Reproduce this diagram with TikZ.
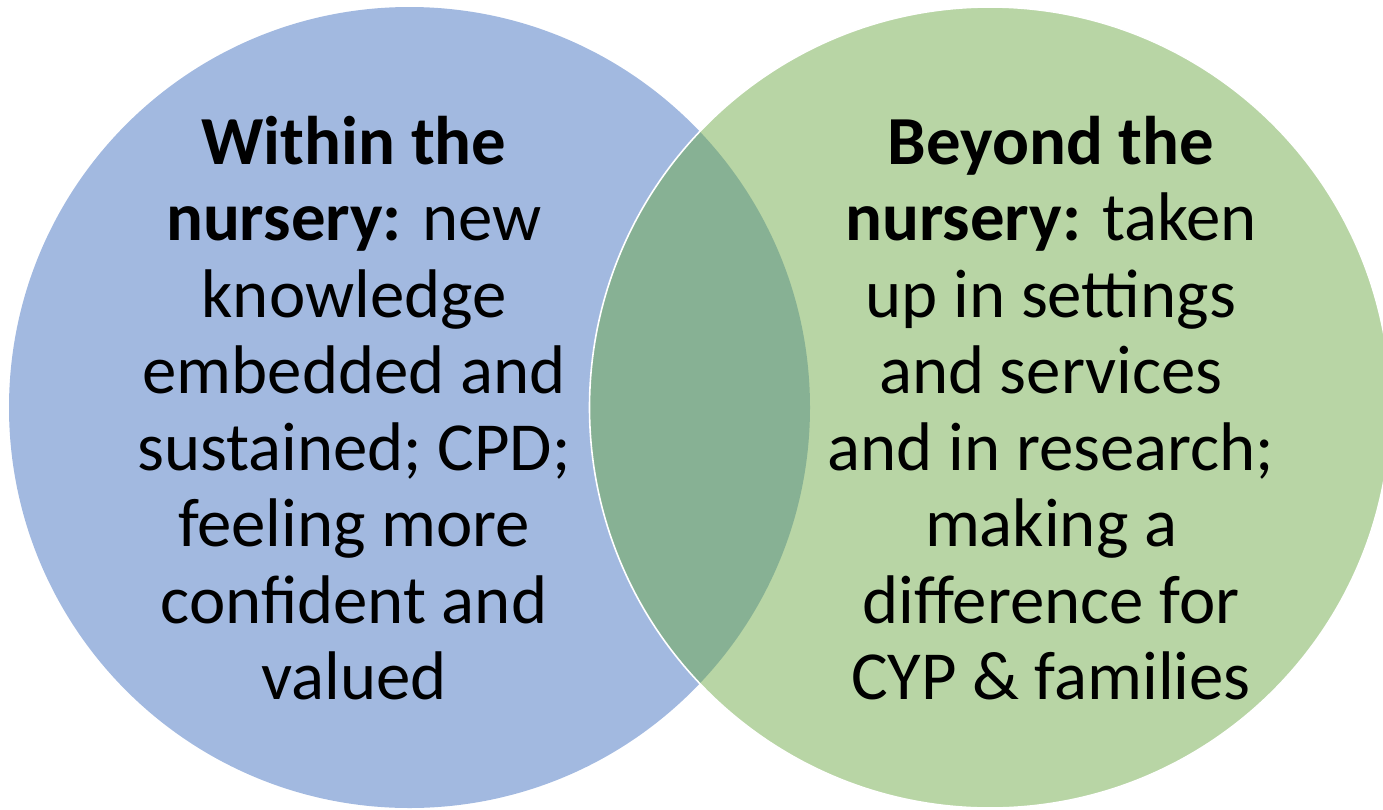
\documentclass[tikz,border=0pt]{standalone}
\usepackage{fontspec}
\setmainfont{Carlito}
\usetikzlibrary{positioning}
\definecolor{withinblue}{HTML}{A2B9E0}
\definecolor{beyondgreen}{HTML}{B8D5A5}
\definecolor{overlapgreen}{HTML}{87B194}
\tikzset{
    x=1pt, y=-1pt,
    venntext/.style={align=center, inner sep=0pt, text=black,
        font=\fontsize{68.8}{76.5}\selectfont},
    rim/.style={draw=white, line width=1.6pt}
}

\begin{document}
\begin{tikzpicture}
    \useasboundingbox (0,0) rectangle (1383,809);
    \coordinate (lc) at (409.5,407.5);
    \coordinate (rc) at (990,407.5);
    % the two sets
    \fill[withinblue] (lc) circle (400.5pt);
    \fill[beyondgreen] (rc) circle (400.5pt);
    % overlap
    \begin{scope}
        \clip (lc) circle (400.5pt);
        \fill[overlapgreen] (rc) circle (400.5pt);
    \end{scope}
    \path[rim] (rc) circle (400.5pt);
    % labels
    \node[venntext] (within) at (354,408) {\textbf{Within the}\\\textbf{nursery:} new\\knowledge\\embedded and\\sustained; CPD;\\feeling more\\confident and\\valued};
    \node[venntext] (beyond) at (1051,408) {\textbf{Beyond the}\\\textbf{nursery:} taken\\up in settings\\and services\\and in research;\\making a\\difference for\\CYP \& families};
\end{tikzpicture}
\end{document}
